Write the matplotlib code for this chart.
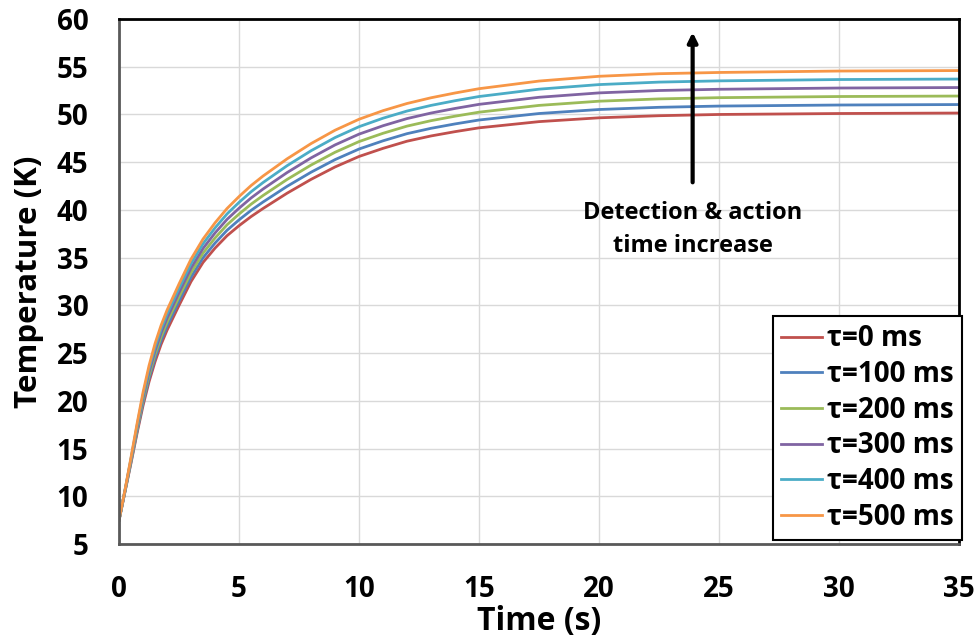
import matplotlib
matplotlib.use("Agg")
import matplotlib.pyplot as plt

plt.rcParams["font.family"] = ["Open Sans", "DejaVu Sans"]
plt.rcParams["font.weight"] = "bold"

# time (s) and temperature (K)
time_s = [0, 0.25, 0.5, 0.75, 1, 1.25, 1.5, 1.75, 2, 2.5, 3, 3.5, 4, 4.5, 5, 5.5, 6,
          7, 8, 9, 10, 11, 12, 13, 14, 15, 17.5, 20, 22.5, 25, 30, 35]
temp_0 = [7.5, 10.5, 13.5, 16.6, 19.5, 22.0, 24.1, 25.9, 27.4, 30.0, 32.5, 34.5, 36.0, 37.3,
          38.35, 39.3, 40.15, 41.75, 43.2, 44.5, 45.6, 46.45, 47.2, 47.75, 48.2, 48.6,
          49.25, 49.65, 49.87, 50.0, 50.1, 50.15]
temp_100 = [7.5, 10.54, 13.62, 16.8, 19.78, 22.34, 24.48, 26.3, 27.82, 30.45, 32.97, 34.99,
            36.53, 37.87, 38.96, 39.95, 40.83, 42.47, 43.95, 45.27, 46.38, 47.24, 47.99,
            48.55, 49.01, 49.42, 50.1, 50.52, 50.75, 50.88, 50.99, 51.04]
temp_200 = [7.5, 10.58, 13.74, 17.0, 20.06, 22.68, 24.86, 26.7, 28.24, 30.9, 33.44, 35.48,
            37.06, 38.44, 39.57, 40.6, 41.51, 43.19, 44.7, 46.04, 47.16, 48.03, 48.78,
            49.35, 49.82, 50.24, 50.95, 51.39, 51.63, 51.76, 51.88, 51.93]
temp_300 = [7.5, 10.62, 13.86, 17.2, 20.34, 23.02, 25.24, 27.1, 28.66, 31.35, 33.91, 35.97,
            37.59, 39.01, 40.18, 41.25, 42.19, 43.91, 45.45, 46.81, 47.94, 48.82, 49.57,
            50.15, 50.63, 51.06, 51.8, 52.26, 52.51, 52.64, 52.77, 52.82]
temp_400 = [7.5, 10.66, 13.98, 17.4, 20.62, 23.36, 25.62, 27.5, 29.08, 31.8, 34.38, 36.46,
            38.12, 39.58, 40.79, 41.9, 42.87, 44.63, 46.2, 47.58, 48.72, 49.61, 50.36,
            50.95, 51.44, 51.88, 52.65, 53.13, 53.39, 53.52, 53.66, 53.71]
temp_500 = [7.5, 10.7, 14.1, 17.6, 20.9, 23.7, 26.0, 27.9, 29.5, 32.25, 34.85, 36.95,
            38.65, 40.15, 41.4, 42.55, 43.55, 45.35, 46.95, 48.35, 49.5, 50.4, 51.15,
            51.75, 52.25, 52.7, 53.5, 54.0, 54.27, 54.4, 54.55, 54.6]

labels = ["τ=0 ms", "τ=100 ms", "τ=200 ms", "τ=300 ms", "τ=400 ms", "τ=500 ms"]
series = [temp_0, temp_100, temp_200, temp_300, temp_400, temp_500]
colors = ["#C0504D", "#4F81BD", "#9BBB59", "#8064A2", "#4BACC6", "#F79646"]

fig = plt.figure(figsize=(9.79, 6.38), dpi=100)
ax = fig.add_axes([0.1216, 0.1473, 0.858, 0.8229])

for ys, lab, c in zip(series, labels, colors):
    ax.plot(time_s, ys, color=c, lw=2.0, label=lab)

ax.set_xlim(0, 35)
ax.set_ylim(5, 60)
ax.set_xticks(range(0, 36, 5))
ax.set_yticks(range(5, 61, 5))
ax.grid(True, color="#D9D9D9", lw=1)
ax.set_axisbelow(True)
ax.tick_params(axis="both", length=0, labelsize=20)
ax.tick_params(axis="x", pad=22)
ax.tick_params(axis="y", pad=22)
for s in ("left", "bottom"):
    ax.spines[s].set_color("#595959")
    ax.spines[s].set_linewidth(2)
for s in ("top", "right"):
    ax.spines[s].set_color("black")
    ax.spines[s].set_linewidth(2)

ax.set_xlabel("Time (s)", fontsize=23, fontweight="bold", labelpad=1)
ax.set_ylabel("Temperature (K)", fontsize=22.5, fontweight="bold")
ax.yaxis.set_label_coords(-0.0893, 0.5)

ax.annotate("", xy=(23.9, 58.9), xytext=(23.9, 42.6),
            arrowprops=dict(arrowstyle="-|>", color="black", lw=3, mutation_scale=14))
ax.text(23.9, 37.9, "Detection & action\ntime increase", ha="center", va="center",
        fontsize=17, fontweight="bold", linespacing=1.5)

leg = ax.legend(loc="lower right", borderaxespad=0, fontsize=20, handlelength=1.45,
                handletextpad=0.2, labelspacing=0.24, borderpad=0.3, fancybox=False,
                framealpha=1, edgecolor="black", bbox_to_anchor=(1.0036, 0.0076))
leg.get_frame().set_linewidth(1.5)
for line in leg.get_lines():
    line.set_linewidth(2)

fig.savefig("out.png", dpi=100)
